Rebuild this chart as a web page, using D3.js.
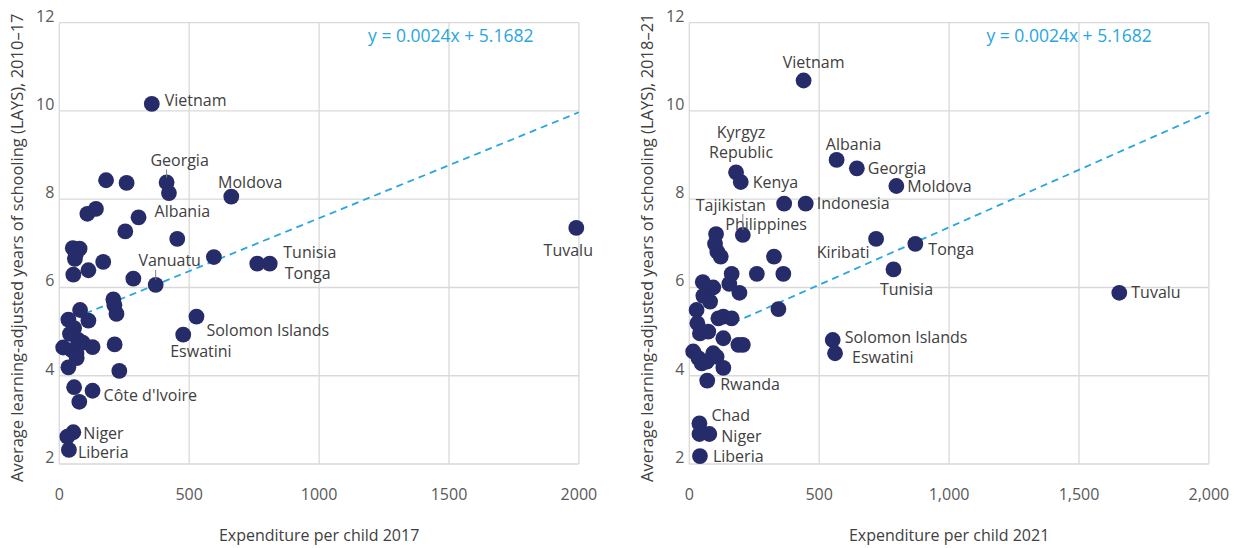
<!DOCTYPE html>
<html>
<head>
<meta charset="utf-8">
<script src="https://cdn.jsdelivr.net/npm/d3@7"></script>
<style>
  body { margin: 0; background: #fff; }
  text { font-family: "Open Sans", sans-serif; }
</style>
</head>
<body>
<div id="chart"></div>
<script>
// ---- data ----
var names17 = ["Vietnam", "Georgia", "", "Moldova", "", "", "", "", "Albania", "", "", "", "Tunisia", "Tonga",
  "", "", "", "", "", "", "", "", "Vanuatu", "", "", "", "", "", "Solomon Islands", "Eswatini",
  "Côte d'Ivoire", "", "", "Niger", "", "Liberia", "Tuvalu",
  "", "", "", "", "", "", "", "", "", "", "", "", ""];
var spend17 = [356, 413, 422, 662, 180, 259, 108, 141, 305, 254, 454, 595, 762, 810,
  169, 52, 78, 60, 64, 54, 112, 285, 371, 208, 212, 220, 213, 231, 528, 477,
  128, 57, 77, 54, 31, 37, 1990,
  80, 35, 112, 57, 15, 73, 128, 67, 35, 48, 41, 66, 90];
var lays17 = [10.16, 8.38, 8.14, 8.06, 8.43, 8.37, 7.67, 7.78, 7.59, 7.27, 7.10, 6.69, 6.54, 6.54,
  6.58, 6.89, 6.88, 6.65, 6.76, 6.29, 6.39, 6.20, 6.06, 5.73, 5.60, 5.40, 4.71, 4.11, 5.34, 4.93,
  3.66, 3.74, 3.41, 2.72, 2.62, 2.32, 7.35,
  5.49, 5.27, 5.25, 5.08, 4.64, 4.81, 4.65, 4.40, 4.19, 4.58, 4.95, 4.50, 4.75];

var names21 = ["Vietnam", "Kyrgyz Republic", "Kenya", "Albania", "Georgia", "Moldova", "Philippines", "Indonesia",
  "Tajikistan", "", "", "", "", "", "Kiribati", "Tonga", "Tunisia",
  "", "", "", "", "", "", "", "", "", "", "", "", "", "", "", "", "", "", "", "", "", "", "", "", "", "", "",
  "Rwanda", "Solomon Islands", "Eswatini", "Chad", "Niger", "", "Liberia", "Tuvalu"];
var spend21 = [440, 180, 198, 567, 645, 797, 365, 448,
  206, 103, 99, 108, 121, 326, 719, 870, 786,
  163, 260, 362, 52, 92, 154, 193, 54, 80, 28, 343, 131, 163, 31, 112, 41, 73, 131, 189, 15, 35, 92, 67, 131, 105, 48, 206,
  69, 552, 561, 39, 77, 39, 41, 1655];
var lays21 = [10.69, 8.61, 8.39, 8.89, 8.70, 8.30, 7.90, 7.90,
  7.19, 7.21, 6.99, 6.81, 6.70, 6.70, 7.10, 6.99, 6.41,
  6.31, 6.31, 6.31, 6.12, 6.00, 6.08, 5.88, 5.81, 5.68, 5.49, 5.51, 5.34, 5.30, 5.19, 5.30, 4.96, 5.00, 4.85, 4.70, 4.55, 4.40, 4.51, 4.32, 4.18, 4.43, 4.28, 4.70,
  3.89, 4.81, 4.51, 2.92, 2.68, 2.68, 2.18, 5.88];

// trend lines as drawn: [x, y] end points
var trend17 = [[100, 5.41], [2000, 9.97]];
var trend21 = [[170, 5.20], [2000, 9.97]];
var equation = "y = 0.0024x + 5.1682";

var xTicks = [0, 500, 1000, 1500, 2000];
var yTicks = [2, 4, 6, 8, 10, 12];

// ---- label placement (dx, dy from dot centre, anchor, leader line) ----
var labelPos17 = {
  "Vietnam": [13, -3, "start"],
  "Georgia": [13, -22, "middle", true],
  "Moldova": [19, -14, "middle"],
  "Albania": [16, -6, "start"],
  "Vanuatu": [14, -24, "middle", true],
  "Tunisia": [26, -11, "start"],
  "Tonga": [15, 10, "start"],
  "Solomon Islands": [10, 14, "start"],
  "Eswatini": [-13, 17, "start"],
  "Côte d'Ivoire": [11, 5, "start"],
  "Niger": [10, 1, "start"],
  "Liberia": [9, 3, "start"],
  "Tuvalu": [-8, 22, "middle"]
};
var labelPos21 = {
  "Vietnam": [10, -18, "middle"],
  "Kyrgyz Republic": [5, -30, "middle"],
  "Kenya": [12, 0, "start"],
  "Albania": [17, -16, "middle"],
  "Georgia": [11, 0, "start"],
  "Moldova": [11, 0, "start"],
  "Indonesia": [11, 0, "start"],
  "Philippines": [-18, 21, "middle"],
  "Tajikistan": [-12, -30, "middle", true],
  "Kiribati": [-33, 13, "middle"],
  "Tonga": [13, 6, "start"],
  "Tunisia": [13, 20, "middle"],
  "Solomon Islands": [12, -3, "start"],
  "Eswatini": [17, 4, "start"],
  "Rwanda": [13, 4, "start"],
  "Chad": [12, -8, "start"],
  "Niger": [12, 2, "start"],
  "Liberia": [13, 0, "start"],
  "Tuvalu": [12, 0, "start"]
};

var width = 1238, height = 548;
var dotColor = "#262b69", gridColor = "#d9d9d9", trendColor = "#29a6df";
var labelColor = "#404040", tickColor = "#595959";

var svg = d3.select("#chart").append("svg")
  .attr("width", width)
  .attr("height", height);

var y = d3.scaleLinear().domain([2, 12]).range([464, 22.7]);

function drawPanel(opts) {
  var x = d3.scaleLinear().domain([0, 2000]).range([opts.left, opts.left + 519.6]);
  var g = svg.append("g");

  // grid
  g.selectAll(".gx").data(xTicks).enter().append("line")
    .attr("x1", function (d) { return x(d); }).attr("x2", function (d) { return x(d); })
    .attr("y1", y(2)).attr("y2", y(12))
    .attr("stroke", gridColor).attr("stroke-width", 1.3);
  g.selectAll(".gy").data(yTicks).enter().append("line")
    .attr("x1", x(0)).attr("x2", x(2000))
    .attr("y1", function (d) { return y(d); }).attr("y2", function (d) { return y(d); })
    .attr("stroke", gridColor).attr("stroke-width", 1.3);

  // tick labels
  g.selectAll(".tx").data(xTicks).enter().append("text")
    .attr("x", function (d) { return x(d); })
    .attr("y", 500)
    .attr("text-anchor", "middle")
    .attr("font-size", 16)
    .attr("fill", tickColor)
    .text(opts.xFormat);
  g.selectAll(".ty").data(yTicks).enter().append("text")
    .attr("x", x(0) - 5)
    .attr("y", function (d) { return y(d) - 1; })
    .attr("text-anchor", "end")
    .attr("font-size", 16)
    .attr("fill", tickColor)
    .text(function (d) { return d; });

  // axis titles
  g.append("text")
    .attr("x", x(1000)).attr("y", 541)
    .attr("text-anchor", "middle")
    .attr("font-size", 16)
    .attr("fill", labelColor)
    .text(opts.xTitle);
  g.append("text")
    .attr("transform", "translate(" + (x(0) - 36) + "," + y(6.9) + ") rotate(-90)")
    .attr("text-anchor", "middle")
    .attr("font-size", 16.5)
    .attr("fill", labelColor)
    .text(opts.yTitle);

  // trend line
  g.append("line")
    .attr("x1", x(opts.trend[0][0])).attr("y1", y(opts.trend[0][1]))
    .attr("x2", x(opts.trend[1][0])).attr("y2", y(opts.trend[1][1]))
    .attr("stroke", trendColor)
    .attr("stroke-width", 1.8)
    .attr("stroke-dasharray", "7,5");
  g.append("text")
    .attr("x", x(opts.eqX)).attr("y", 42)
    .attr("text-anchor", "middle")
    .attr("font-size", 17.5)
    .attr("fill", trendColor)
    .text(equation);

  var pts = opts.names.map(function (n, i) {
    return { name: n, spend: opts.spend[i], lays: opts.lays[i] };
  });

  g.selectAll("circle").data(pts).enter().append("circle")
    .attr("cx", function (d) { return x(d.spend); })
    .attr("cy", function (d) { return y(d.lays); })
    .attr("r", 7.9)
    .attr("fill", dotColor);

  var labelled = pts.filter(function (d) { return d.name; });

  labelled.forEach(function (d) {
    var p = opts.pos[d.name];
    var cx = x(d.spend), cy = y(d.lays);
    if (p[3]) {
      g.append("line")
        .attr("x1", cx).attr("x2", cx)
        .attr("y1", cy + p[1] + 9).attr("y2", cy - 5)
        .attr("stroke", "#808080").attr("stroke-width", 1);
    }
    var t = g.append("text")
      .attr("x", cx + p[0])
      .attr("y", cy + p[1])
      .attr("dy", "0.35em")
      .attr("text-anchor", p[2])
      .attr("font-size", 16)
      .attr("fill", labelColor);
    if (d.name === "Kyrgyz Republic") {
      t.attr("dy", null);
      t.append("tspan").attr("x", cx + p[0]).attr("dy", "-0.3em").text("Kyrgyz");
      t.append("tspan").attr("x", cx + p[0]).attr("dy", "1.25em").text("Republic");
    } else {
      t.text(d.name);
    }
  });
}

drawPanel({
  left: 59.3, names: names17, spend: spend17, lays: lays17, trend: trend17, pos: labelPos17,
  eqX: 1507,
  xFormat: function (d) { return d; },
  xTitle: "Expenditure per child 2017",
  yTitle: "Average learning-adjusted years of schooling (LAYS), 2010–17"
});
drawPanel({
  left: 689.3, names: names21, spend: spend21, lays: lays21, trend: trend21, pos: labelPos21,
  eqX: 1462,
  xFormat: d3.format(","),
  xTitle: "Expenditure per child 2021",
  yTitle: "Average learning-adjusted years of schooling (LAYS), 2018–21"
});
</script>
</body>
</html>
